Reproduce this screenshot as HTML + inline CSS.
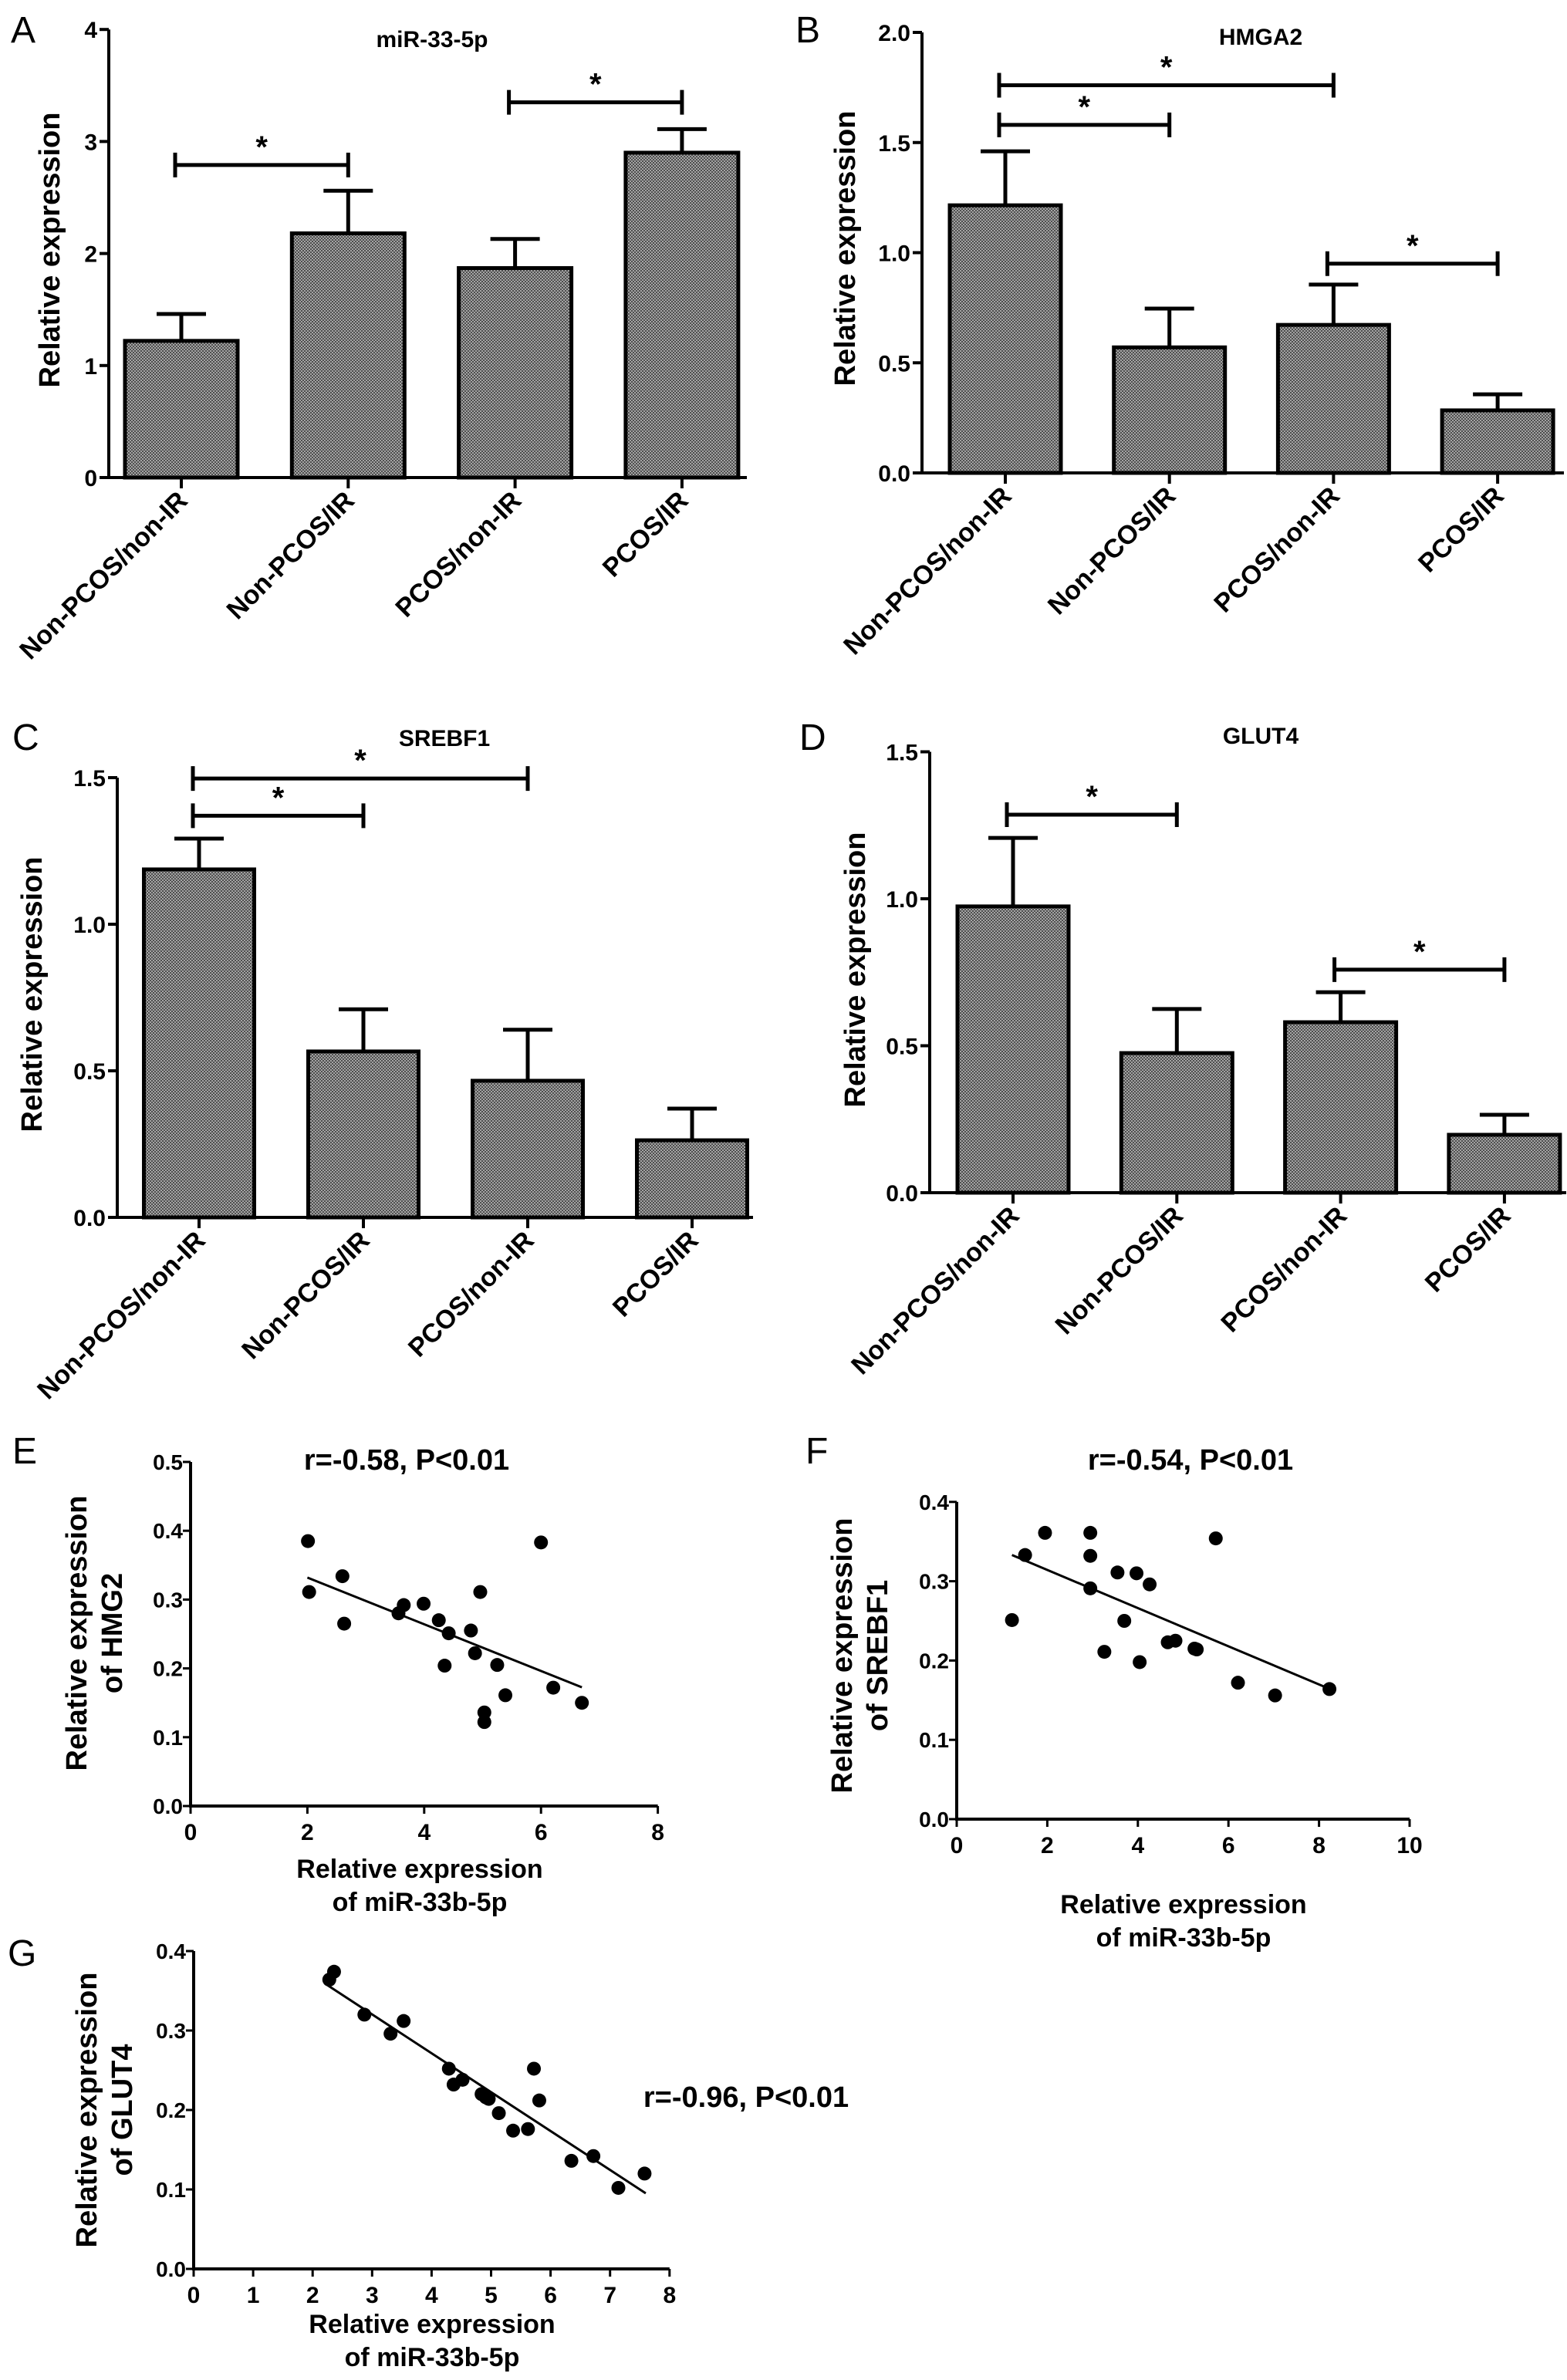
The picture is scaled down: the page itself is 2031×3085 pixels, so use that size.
<!DOCTYPE html>
<html><head><meta charset="utf-8">
<style>
html,body{margin:0;padding:0;background:#fff;}
svg{display:block;font-family:"Liberation Sans",Arial,sans-serif;}
</style></head>
<body>
<svg id="fig" width="2031" height="3085" viewBox="0 0 2031 3085" xmlns="http://www.w3.org/2000/svg">
<defs>
<pattern id="chk" width="4" height="4" patternUnits="userSpaceOnUse">
<rect width="4" height="4" fill="#a4a4a4"/>
<rect width="2" height="2" fill="#4e4e4e"/>
<rect x="2" y="2" width="2" height="2" fill="#4e4e4e"/>
</pattern>
</defs>
</svg>
<script>
const categories = ["Non-PCOS/non-IR","Non-PCOS/IR","PCOS/non-IR","PCOS/IR"];
const aValues = [1.22, 2.18, 1.87, 2.90];
const aErrors = [1.46, 2.56, 2.13, 3.11];
const aSigPairs = [[0,1],[2,3]];
const aSigLevels = [2.79, 3.35];
const bValues = [1.215, 0.57, 0.672, 0.284];
const bErrors = [1.46, 0.746, 0.855, 0.357];
const bSigPairs = [[0,2],[0,1],[2,3]];
const bSigLevels = [1.76, 1.58, 0.95];
const cValues = [1.187, 0.566, 0.466, 0.263];
const cErrors = [1.292, 0.71, 0.64, 0.371];
const cSigPairs = [[0,2],[0,1]];
const cSigLevels = [1.497, 1.37];
const dValues = [0.974, 0.475, 0.58, 0.197];
const dErrors = [1.207, 0.625, 0.682, 0.265];
const dSigPairs = [[0,1],[2,3]];
const dSigLevels = [1.286, 0.759];

const eX = [2.01,2.03,2.6,2.63,3.56,3.65,3.99,4.25,4.42,4.35,4.8,4.87,4.96,5.03,5.03,5.25,5.39,6.0,6.21,6.7];
const eY = [0.385,0.311,0.334,0.265,0.28,0.292,0.294,0.27,0.251,0.204,0.255,0.222,0.311,0.136,0.122,0.205,0.161,0.383,0.172,0.15];
const eFitX = [2.0, 6.7];
const eFitY = [0.332, 0.1725];
const fX = [1.22,1.51,1.95,2.95,2.95,2.95,3.26,3.55,3.7,3.97,4.04,4.26,4.66,4.83,5.25,5.3,5.72,6.21,7.03,8.23];
const fY = [0.251,0.333,0.361,0.361,0.332,0.291,0.211,0.311,0.25,0.31,0.198,0.296,0.223,0.225,0.215,0.214,0.354,0.172,0.156,0.164];
const fFitX = [1.22, 8.2];
const fFitY = [0.333, 0.165];
const gX = [2.28,2.36,2.87,3.31,3.53,4.29,4.37,4.52,4.84,4.91,4.96,5.13,5.37,5.62,5.72,5.81,6.35,6.72,7.14,7.58];
const gY = [0.364,0.374,0.32,0.296,0.312,0.252,0.232,0.238,0.22,0.216,0.214,0.196,0.174,0.176,0.252,0.212,0.136,0.142,0.102,0.12];
const gFitX = [2.25, 7.6];
const gFitY = [0.357, 0.0952];

const NS = "http://www.w3.org/2000/svg";
const svg = document.getElementById("fig");
function mk(tag, attrs, parent, text){
  const el = document.createElementNS(NS, tag);
  for (const k in attrs) el.setAttribute(k, attrs[k]);
  if (text !== undefined) el.textContent = text;
  (parent || svg).appendChild(el);
  return el;
}

function barChart(id, letter, title, values, errors, sigPairs, sigLevels, c){
  const g = mk("g", {});
  
  
  const yS = v => c.zeroY - v * c.ppu;
  const xS = i => c.c0 + i * c.sp;
  const L = mk("text", {x:c.lx, y:c.ly, "font-size":48}, g, letter);
  
  
  const T = mk("text", {x:c.tx, y:c.ty, "font-size":30, "font-weight":"bold", "text-anchor":"middle"}, g, title);
  
  
  values.forEach((v, i) => {
    const cx = xS(i);
    const r = mk("rect", {x:cx - c.w/2, y:yS(v), width:c.w, height:c.zeroY - yS(v), fill:"url(#chk)", stroke:"#000", "stroke-width":5}, g);
    
    
    const e = mk("path", {d:`M${cx},${yS(v)} V${yS(errors[i])} M${cx-32},${yS(errors[i])} H${cx+32}`, stroke:"#000", "stroke-width":5, fill:"none"}, g);
    
    
  });
  const ax = mk("path", {d:`M${c.ax},${yS(c.yMax)} V${c.zeroY} H${c.xEnd}`, stroke:"#000", "stroke-width":4, fill:"none"}, g);
  
  
  for (let v = 0; v <= c.yMax + 1e-9; v += c.step){
    const y = yS(v);
    mk("line", {x1:c.ax-12, x2:c.ax, y1:y, y2:y, stroke:"#000", "stroke-width":4}, g);
    const t = mk("text", {x:c.ax-15, y:y+11, "font-size":30, "font-weight":"bold", "text-anchor":"end"}, g, v.toFixed(c.dec));
    
    
  }
  categories.forEach((cat, i) => {
    const cx = xS(i);
    mk("line", {x1:cx, x2:cx, y1:c.zeroY, y2:c.zeroY+14, stroke:"#000", "stroke-width":4}, g);
    const t = mk("text", {transform:`translate(${cx+10},${c.zeroY+32}) rotate(-45)`, "font-size":34, "font-weight":"bold", "text-anchor":"end"}, g, cat);
    
    
  });
  const yl = mk("text", {transform:`translate(${c.ylx},${c.yly}) rotate(-90)`, "font-size":38, "font-weight":"bold", "text-anchor":"middle"}, g, "Relative expression");
  
  
  sigPairs.forEach((p, k) => {
    const x1 = xS(p[0]) - 8, x2 = xS(p[1]), y = yS(sigLevels[k]);
    const b = mk("path", {d:`M${x1},${y-16} V${y+16} M${x1},${y} H${x2} M${x2},${y-16} V${y+16}`, stroke:"#000", "stroke-width":5, fill:"none"}, g);
    
    
    const s = mk("text", {x:(x1+x2)/2, y:y-10, "font-size":40, "font-weight":"bold", "text-anchor":"middle"}, g, "*");
    
    
  });
}

function scatter(id, letter, stat, xs, ys, fitX, fitY, yTitle2, c){
  const g = mk("g", {});
  
  
  const xS = v => c.x0 + v * c.pxX;
  const yS = v => c.zeroY - v * c.pxY;
  const L = mk("text", {x:c.lx, y:c.ly, "font-size":48}, g, letter);
  
  
  const T = mk("text", {x:c.tx, y:c.ty, "font-size":38, "font-weight":"bold", "text-anchor":"middle"}, g, stat);
  
  
  const ax = mk("path", {d:`M${c.x0},${yS(c.yMax)} V${c.zeroY} H${xS(c.xMax)}`, stroke:"#000", "stroke-width":4, fill:"none"}, g);
  
  
  for (let v = 0; v <= c.yMax + 1e-9; v += 0.1){
    const y = yS(v);
    mk("line", {x1:c.x0-10, x2:c.x0, y1:y, y2:y, stroke:"#000", "stroke-width":3}, g);
    const t = mk("text", {x:c.x0-10, y:y+10, "font-size":28, "font-weight":"bold", "text-anchor":"end"}, g, v.toFixed(1));
    
    
  }
  for (let v = 0; v <= c.xMax + 1e-9; v += c.xStep){
    const x = xS(v);
    mk("line", {x1:x, x2:x, y1:c.zeroY, y2:c.zeroY+10, stroke:"#000", "stroke-width":3}, g);
    const t = mk("text", {x:x, y:c.zeroY+44, "font-size":30, "font-weight":"bold", "text-anchor":"middle"}, g, String(v));
    
    
  }
  const fl = mk("line", {x1:xS(fitX[0]), y1:yS(fitY[0]), x2:xS(fitX[1]), y2:yS(fitY[1]), stroke:"#000", "stroke-width":3}, g);
  
  
  xs.forEach((xv, i) => {
    const d = mk("circle", {cx:xS(xv), cy:yS(ys[i]), r:9, fill:"#000"}, g);
    
    
  });
  const x1 = mk("text", {x:c.xtx, y:c.xty, "font-size":34, "font-weight":"bold", "text-anchor":"middle"}, g, "Relative expression");
  
  
  const x2 = mk("text", {x:c.xtx, y:c.xty+43, "font-size":34, "font-weight":"bold", "text-anchor":"middle"}, g, "of miR-33b-5p");
  
  
  const y1 = mk("text", {transform:`translate(${c.ytx},${c.yty}) rotate(-90)`, "font-size":38, "font-weight":"bold", "text-anchor":"middle"}, g, "Relative expression");
  
  
  const y2 = mk("text", {transform:`translate(${c.ytx+46},${c.yty}) rotate(-90)`, "font-size":38, "font-weight":"bold", "text-anchor":"middle"}, g, yTitle2);
  
  
}

barChart("panel-a-mir33", "A", "miR-33-5p", aValues, aErrors, aSigPairs, aSigLevels,
  {ax:141, zeroY:619, ppu:145.2, c0:235, sp:216.3, w:146, xEnd:968, yMax:4, step:1, dec:0, tx:560, ty:61, lx:14, ly:55, ylx:77, yly:324});
barChart("panel-b-hmga2", "B", "HMGA2", bValues, bErrors, bSigPairs, bSigLevels,
  {ax:1195, zeroY:613, ppu:285.5, c0:1303, sp:212.7, w:144, xEnd:2027, yMax:2, step:0.5, dec:1, tx:1634, ty:58, lx:1031, ly:55, ylx:1108, yly:322});
barChart("panel-c-srebf1", "C", "SREBF1", cValues, cErrors, cSigPairs, cSigLevels,
  {ax:152, zeroY:1578, ppu:380, c0:258, sp:213, w:143, xEnd:976, yMax:1.5, step:0.5, dec:1, tx:576, ty:967, lx:16, ly:972, ylx:54, yly:1289});
barChart("panel-d-glut4", "D", "GLUT4", dValues, dErrors, dSigPairs, dSigLevels,
  {ax:1205, zeroY:1546, ppu:381, c0:1313, sp:212.3, w:144, xEnd:2030, yMax:1.5, step:0.5, dec:1, tx:1634, ty:964, lx:1036, ly:972, ylx:1121, yly:1257});

scatter("panel-e-hmg2-scatter", "E", "r=-0.58, P<0.01", eX, eY, eFitX, eFitY, "of HMG2",
  {x0:247, zeroY:2341, pxX:75.7, pxY:892, xMax:8, xStep:2, yMax:0.5, tx:527, ty:1905, lx:16, ly:1897, xtx:544, xty:2434, ytx:112, yty:2117});
scatter("panel-f-srebf1-scatter", "F", "r=-0.54, P<0.01", fX, fY, fFitX, fFitY, "of SREBF1",
  {x0:1240, zeroY:2358, pxX:58.7, pxY:1028, xMax:10, xStep:2, yMax:0.4, tx:1543, ty:1905, lx:1044, ly:1897, xtx:1534, xty:2480, ytx:1104, yty:2146});
scatter("panel-g-glut4-scatter", "G", "r=-0.96, P<0.01", gX, gY, gFitX, gFitY, "of GLUT4",
  {x0:251, zeroY:2941, pxX:77.1, pxY:1030, xMax:8, xStep:1, yMax:0.4, tx:967, ty:2731, lx:10, ly:2548, xtx:560, xty:3024, ytx:125, yty:2735});
</script>
</body></html>
